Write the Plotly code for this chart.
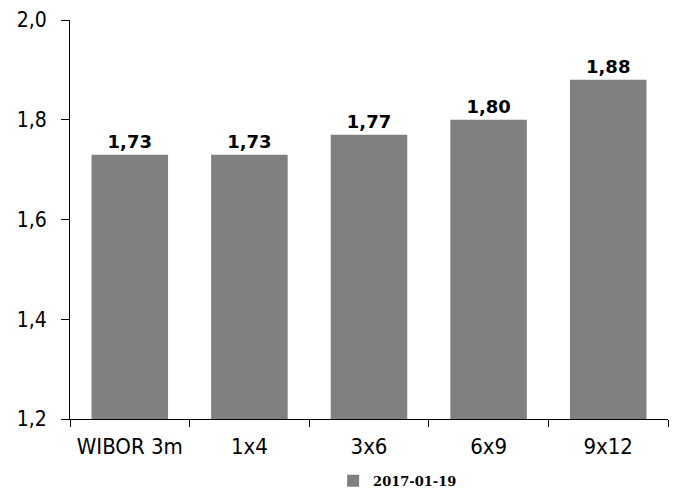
import plotly.graph_objects as go

categories = ["WIBOR 3m", "1x4", "3x6", "6x9", "9x12"]
values = [1.73, 1.73, 1.77, 1.80, 1.88]
series_name = "2017-01-19"
y_ticks = [1.2, 1.4, 1.6, 1.8, 2.0]

fig = go.Figure()
fig.add_trace(go.Bar(
    x=categories,
    y=values,
    name=series_name,
    marker=dict(color="#808080", line=dict(width=0)),
    texttemplate="<b>%{y:.2f}</b>",
    textposition="outside",
    textfont=dict(family="DejaVu Sans, Verdana, sans-serif", size=18, color="#000000"),
    cliponaxis=False,
    showlegend=True,
))

fig.update_layout(
    width=681,
    height=488,
    margin=dict(l=70, r=13, t=20, b=69, autoexpand=False),
    paper_bgcolor="white",
    plot_bgcolor="white",
    separators=", ",
    bargap=0.36,
    font=dict(family="DejaVu Sans Condensed, Tahoma, sans-serif", size=21, color="#000000"),
    showlegend=True,
    legend=dict(
        orientation="h",
        x=0.44, xanchor="left",
        y=-0.155, yanchor="middle",
        font=dict(family="DejaVu Serif, Georgia, serif", size=13, color="#000000", weight="bold"),
        itemwidth=30,
    ),
)

fig.update_xaxes(
    type="category",
    showline=True, linecolor="#000000", linewidth=1,
    ticks="outside", tickson="boundaries", ticklen=7, tickcolor="#000000",
    ticklabelstandoff=8,
    tickfont=dict(size=22),
    showgrid=False,
)
fig.update_yaxes(
    range=[1.2, 2.0],
    tickvals=y_ticks,
    tickformat=".1f",
    showline=True, linecolor="#000000", linewidth=1,
    ticks="outside", ticklen=8, tickcolor="#000000",
    ticklabelstandoff=10,
    showgrid=False, zeroline=False,
)

fig.write_html("out.html")
